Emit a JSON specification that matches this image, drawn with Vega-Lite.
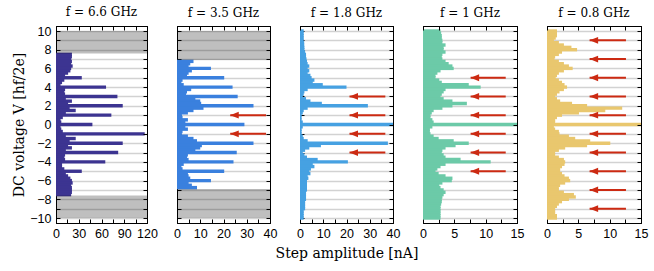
{
  "$schema": "https://vega.github.io/schema/vega-lite/v6.json",
  "padding": {"left": 12, "top": 5, "right": 5, "bottom": 5},
  "background": "white",
  "bounds": "flush",
  "spacing": 30,
  "config": {
    "view": {"stroke": "black", "strokeWidth": 1},
    "axis": {"labelFont": "Liberation Sans", "labelFontSize": 12.5, "labelColor": "black", "labelOverlap": false, "labelFlush": false, "titleFont": "DejaVu Serif", "titleFontSize": 14, "titleFontWeight": "normal", "titleColor": "black", "tickColor": "black", "domainColor": "black", "tickSize": -4, "tickWidth": 1, "domain": true},
    "title": {"font": "DejaVu Serif", "fontSize": 12, "fontWeight": "normal", "color": "black", "offset": 6}
  },
  "datasets": {
    "b1": [
      {"v":7.5,"a":21},{"v":7.25,"a":21},{"v":7,"a":20},{"v":6.75,"a":21},{"v":6.5,"a":20},{"v":6.25,"a":22},{"v":6,"a":20},{"v":5.75,"a":19},{"v":5.5,"a":16},{"v":5.25,"a":12},{"v":5,"a":34},{"v":4.75,"a":11},{"v":4.5,"a":8},{"v":4.25,"a":6},{"v":4,"a":66},{"v":3.75,"a":12},{"v":3.5,"a":11},{"v":3.25,"a":12},{"v":3,"a":81},{"v":2.75,"a":13},{"v":2.5,"a":21},{"v":2.25,"a":16},{"v":2,"a":88},{"v":1.75,"a":18},{"v":1.5,"a":26},{"v":1.25,"a":13},{"v":1,"a":73},{"v":0.75,"a":9},{"v":0.5,"a":6},{"v":0.25,"a":7},{"v":0,"a":48},{"v":-0.25,"a":6},{"v":-0.5,"a":7},{"v":-0.75,"a":9},{"v":-1,"a":117},{"v":-1.25,"a":13},{"v":-1.5,"a":26},{"v":-1.75,"a":18},{"v":-2,"a":88},{"v":-2.25,"a":16},{"v":-2.5,"a":21},{"v":-2.75,"a":13},{"v":-3,"a":82},{"v":-3.25,"a":12},{"v":-3.5,"a":11},{"v":-3.75,"a":12},{"v":-4,"a":65},{"v":-4.25,"a":8},{"v":-4.5,"a":8},{"v":-4.75,"a":11},{"v":-5,"a":34},{"v":-5.25,"a":13},{"v":-5.5,"a":16},{"v":-5.75,"a":19},{"v":-6,"a":21},{"v":-6.25,"a":22},{"v":-6.5,"a":20},{"v":-6.75,"a":21},{"v":-7,"a":21},{"v":-7.25,"a":21},{"v":-7.5,"a":20}
    ],
    "b2": [
      {"v":6.75,"a":7.1},{"v":6.5,"a":5.7},{"v":6.25,"a":5},{"v":6,"a":14.6},{"v":5.75,"a":6.4},{"v":5.5,"a":5},{"v":5.25,"a":4.3},{"v":5,"a":20.3},{"v":4.75,"a":2.4},{"v":4.5,"a":1.9},{"v":4.25,"a":2.9},{"v":4,"a":23.9},{"v":3.75,"a":6.1},{"v":3.5,"a":4.3},{"v":3.25,"a":3.9},{"v":3,"a":26.1},{"v":2.75,"a":7.9},{"v":2.5,"a":10},{"v":2.25,"a":10.4},{"v":2,"a":32.9},{"v":1.75,"a":11.4},{"v":1.5,"a":7.1},{"v":1.25,"a":4.7},{"v":1,"a":2.1},{"v":0.75,"a":2.4},{"v":0.5,"a":4.7},{"v":0.25,"a":3.6},{"v":0,"a":29},{"v":-0.25,"a":3.6},{"v":-0.5,"a":4.7},{"v":-0.75,"a":2.4},{"v":-1,"a":2.1},{"v":-1.25,"a":4.7},{"v":-1.5,"a":7.1},{"v":-1.75,"a":8.6},{"v":-2,"a":32.9},{"v":-2.25,"a":10.7},{"v":-2.5,"a":10},{"v":-2.75,"a":7.9},{"v":-3,"a":25.7},{"v":-3.25,"a":4.7},{"v":-3.5,"a":4.3},{"v":-3.75,"a":5},{"v":-4,"a":24.3},{"v":-4.25,"a":2.9},{"v":-4.5,"a":1.9},{"v":-4.75,"a":2.4},{"v":-5,"a":20.3},{"v":-5.25,"a":4.7},{"v":-5.5,"a":5},{"v":-5.75,"a":5.7},{"v":-6,"a":14.6},{"v":-6.25,"a":5},{"v":-6.5,"a":6.4},{"v":-6.75,"a":8.6}
    ],
    "b3": [
      {"v":10,"a":1.6},{"v":9.75,"a":1.6},{"v":9.5,"a":1.6},{"v":9.25,"a":1.6},{"v":9,"a":1.6},{"v":8.75,"a":1.8},{"v":8.5,"a":1.8},{"v":8.25,"a":1.9},{"v":8,"a":1.9},{"v":7.75,"a":2.2},{"v":7.5,"a":2.6},{"v":7.25,"a":2.6},{"v":7,"a":2.8},{"v":6.75,"a":3},{"v":6.5,"a":3.3},{"v":6.25,"a":4},{"v":6,"a":3.3},{"v":5.75,"a":4},{"v":5.5,"a":3.3},{"v":5.25,"a":4.5},{"v":5,"a":5},{"v":4.75,"a":6.2},{"v":4.5,"a":5.5},{"v":4.25,"a":9.8},{"v":4,"a":20},{"v":3.75,"a":3.3},{"v":3.5,"a":1.9},{"v":3.25,"a":1.6},{"v":3,"a":1.2},{"v":2.75,"a":2.6},{"v":2.5,"a":4.5},{"v":2.25,"a":9.4},{"v":2,"a":29.2},{"v":1.75,"a":3.3},{"v":1.5,"a":1.6},{"v":1.25,"a":1.2},{"v":1,"a":0.7},{"v":0.75,"a":0.7},{"v":0.5,"a":0.7},{"v":0.25,"a":1.2},{"v":0,"a":42},{"v":-0.25,"a":1.2},{"v":-0.5,"a":0.7},{"v":-0.75,"a":0.7},{"v":-1,"a":0.7},{"v":-1.25,"a":1.2},{"v":-1.5,"a":1.6},{"v":-1.75,"a":3.3},{"v":-2,"a":37.8},{"v":-2.25,"a":9},{"v":-2.5,"a":4},{"v":-2.75,"a":2.2},{"v":-3,"a":1.2},{"v":-3.25,"a":1.9},{"v":-3.5,"a":3},{"v":-3.75,"a":7.6},{"v":-4,"a":20.6},{"v":-4.25,"a":5.5},{"v":-4.5,"a":6.2},{"v":-4.75,"a":4.7},{"v":-5,"a":4},{"v":-5.25,"a":4.5},{"v":-5.5,"a":3.3},{"v":-5.75,"a":3.6},{"v":-6,"a":3},{"v":-6.25,"a":3},{"v":-6.5,"a":3},{"v":-6.75,"a":3},{"v":-7,"a":3},{"v":-7.25,"a":2.6},{"v":-7.5,"a":2.6},{"v":-7.75,"a":2.6},{"v":-8,"a":2.6},{"v":-8.25,"a":2.2},{"v":-8.5,"a":2.2},{"v":-8.75,"a":2.2},{"v":-9,"a":2.2},{"v":-9.25,"a":1.6},{"v":-9.5,"a":1.6},{"v":-9.75,"a":1.6},{"v":-10,"a":1.6}
    ],
    "b4": [
      {"v":10,"a":2.8},{"v":9.75,"a":2.9},{"v":9.5,"a":3},{"v":9.25,"a":3},{"v":9,"a":3.1},{"v":8.75,"a":3.1},{"v":8.5,"a":3.6},{"v":8.25,"a":3.3},{"v":8,"a":3.3},{"v":7.75,"a":3.6},{"v":7.5,"a":3.1},{"v":7.25,"a":3},{"v":7,"a":3.1},{"v":6.75,"a":3.6},{"v":6.5,"a":4.1},{"v":6.25,"a":4.7},{"v":6,"a":4.9},{"v":5.75,"a":2.8},{"v":5.5,"a":2.3},{"v":5.25,"a":2},{"v":5,"a":2},{"v":4.75,"a":2.6},{"v":4.5,"a":3},{"v":4.25,"a":7.3},{"v":4,"a":9.2},{"v":3.75,"a":3.6},{"v":3.5,"a":3.3},{"v":3.25,"a":3},{"v":3,"a":2.8},{"v":2.75,"a":3.3},{"v":2.5,"a":4.7},{"v":2.25,"a":7},{"v":2,"a":4.7},{"v":1.75,"a":3.1},{"v":1.5,"a":1.7},{"v":1.25,"a":1.4},{"v":1,"a":1.2},{"v":0.75,"a":1.2},{"v":0.5,"a":1.5},{"v":0.25,"a":1.7},{"v":0,"a":16},{"v":-0.25,"a":1.5},{"v":-0.5,"a":1.1},{"v":-0.75,"a":1.1},{"v":-1,"a":1.2},{"v":-1.25,"a":1.7},{"v":-1.5,"a":2.5},{"v":-1.75,"a":4.9},{"v":-2,"a":7.3},{"v":-2.25,"a":5.2},{"v":-2.5,"a":3.6},{"v":-2.75,"a":3.1},{"v":-3,"a":3},{"v":-3.25,"a":3.3},{"v":-3.5,"a":3.6},{"v":-3.75,"a":6},{"v":-4,"a":10.8},{"v":-4.25,"a":3.6},{"v":-4.5,"a":2.8},{"v":-4.75,"a":2.3},{"v":-5,"a":2},{"v":-5.25,"a":2.5},{"v":-5.5,"a":3.6},{"v":-5.75,"a":4.7},{"v":-6,"a":4.6},{"v":-6.25,"a":3.1},{"v":-6.5,"a":2.6},{"v":-6.75,"a":2.8},{"v":-7,"a":3.3},{"v":-7.25,"a":3.6},{"v":-7.5,"a":3.3},{"v":-7.75,"a":3.1},{"v":-8,"a":3},{"v":-8.25,"a":3},{"v":-8.5,"a":2.9},{"v":-8.75,"a":2.8},{"v":-9,"a":2.8},{"v":-9.25,"a":2.8},{"v":-9.5,"a":2.8},{"v":-9.75,"a":2.8},{"v":-10,"a":2.8}
    ],
    "b5": [
      {"v":10,"a":1.6},{"v":9.75,"a":1.6},{"v":9.5,"a":1.6},{"v":9.25,"a":1.4},{"v":9,"a":1.1},{"v":8.75,"a":1.9},{"v":8.5,"a":2.7},{"v":8.25,"a":3.9},{"v":8,"a":4.8},{"v":7.75,"a":2.4},{"v":7.5,"a":1.9},{"v":7.25,"a":1.3},{"v":7,"a":1.2},{"v":6.75,"a":1.9},{"v":6.5,"a":2.7},{"v":6.25,"a":3.5},{"v":6,"a":4.1},{"v":5.75,"a":2.7},{"v":5.5,"a":1.9},{"v":5.25,"a":1.6},{"v":5,"a":1.4},{"v":4.75,"a":1.9},{"v":4.5,"a":2.4},{"v":4.25,"a":2.8},{"v":4,"a":3.2},{"v":3.75,"a":2.7},{"v":3.5,"a":2},{"v":3.25,"a":1.6},{"v":3,"a":1.3},{"v":2.75,"a":1.6},{"v":2.5,"a":2.1},{"v":2.25,"a":4},{"v":2,"a":6.4},{"v":1.75,"a":12},{"v":1.5,"a":9.3},{"v":1.25,"a":5.1},{"v":1,"a":2.4},{"v":0.75,"a":1.6},{"v":0.5,"a":1.3},{"v":0.25,"a":1.3},{"v":0,"a":16},{"v":-0.25,"a":1.1},{"v":-0.5,"a":1.3},{"v":-0.75,"a":1.9},{"v":-1,"a":2},{"v":-1.25,"a":3.5},{"v":-1.5,"a":4.5},{"v":-1.75,"a":6.9},{"v":-2,"a":10.1},{"v":-2.25,"a":6.4},{"v":-2.5,"a":2.9},{"v":-2.75,"a":1.9},{"v":-3,"a":1.3},{"v":-3.25,"a":1.3},{"v":-3.5,"a":1.9},{"v":-3.75,"a":2.7},{"v":-4,"a":2.9},{"v":-4.25,"a":2.8},{"v":-4.5,"a":2.4},{"v":-4.75,"a":2.1},{"v":-5,"a":2.1},{"v":-5.25,"a":2.4},{"v":-5.5,"a":2.8},{"v":-5.75,"a":3.5},{"v":-6,"a":3.7},{"v":-6.25,"a":2.9},{"v":-6.5,"a":2.1},{"v":-6.75,"a":1.9},{"v":-7,"a":1.9},{"v":-7.25,"a":2.7},{"v":-7.5,"a":4.3},{"v":-7.75,"a":4.6},{"v":-8,"a":3.5},{"v":-8.25,"a":2.4},{"v":-8.5,"a":1.9},{"v":-8.75,"a":1.6},{"v":-9,"a":1.3},{"v":-9.25,"a":1.3},{"v":-9.5,"a":1.3},{"v":-9.75,"a":1.6},{"v":-10,"a":1.6}
    ],
    "g1": [{"y1":7.6,"y2":10,"x1":0,"x2":120},{"y1":-10,"y2":-7.6,"x1":0,"x2":120}],
    "g2": [{"y1":6.9,"y2":10,"x1":0,"x2":40},{"y1":-10,"y2":-6.9,"x1":0,"x2":40}],
    "a2": [{"y":1,"tail":38.3,"tip":22.9},{"y":-1,"tail":38.3,"tip":22.9}],
    "a3": [{"y":3,"tail":36.7,"tip":21.3},{"y":1,"tail":36.7,"tip":21.3},{"y":-1,"tail":36.7,"tip":21.3},{"y":-3,"tail":36.7,"tip":21.3}],
    "a4": [{"y":5,"tail":13.2,"tip":7.6},{"y":3,"tail":13.2,"tip":7.6},{"y":1,"tail":13.2,"tip":7.6},{"y":-1,"tail":13.2,"tip":7.6},{"y":-3,"tail":13.2,"tip":7.6},{"y":-5,"tail":13.2,"tip":7.6}],
    "a5": [{"y":9,"tail":12.6,"tip":6.8},{"y":7,"tail":12.6,"tip":6.8},{"y":5,"tail":12.6,"tip":6.8},{"y":3,"tail":12.6,"tip":6.8},{"y":1,"tail":12.6,"tip":6.8},{"y":-1,"tail":12.6,"tip":6.8},{"y":-3,"tail":12.6,"tip":6.8},{"y":-5,"tail":12.6,"tip":6.8},{"y":-7,"tail":12.6,"tip":6.8},{"y":-9,"tail":12.6,"tip":6.8}]
  },
  "hconcat": [
    {
      "width": 91, "height": 197,
      "title": "f = 6.6 GHz",
      "resolve": {"axis": {"x": "independent", "y": "independent"}},
      "layer": [
        {"data": {"name": "b1"}, "mark": {"type": "bar", "orient": "horizontal", "size": 3.4, "color": "#3c3491", "clip": true},
         "encoding": {
           "y": {"field": "v", "type": "quantitative", "scale": {"domain": [-10, 10], "nice": false, "zero": false}, "axis": {"orient": "left", "zindex": 0, "values": [-10,-9,-8,-7,-6,-5,-4,-3,-2,-1,0,1,2,3,4,5,6,7,8,9,10], "labelExpr": "datum.value % 2 == 0 ? datum.label : ''", "labelPadding": 9, "grid": true, "gridColor": "#d2d2d2", "gridWidth": 1.3, "title": "DC voltage V [hf/2e]", "titlePadding": 3}},
           "x": {"field": "a", "type": "quantitative", "scale": {"domain": [0, 120], "nice": false}, "axis": {"orient": "bottom", "zindex": 0, "values": [0,15,30,45,60,75,90,105,120], "labelExpr": "datum.value % 30 == 0 ? datum.label : ''", "labelPadding": 8, "grid": false, "title": null}}
         }},
        {"data": {"name": "g1"}, "mark": {"type": "rect", "color": "#000000", "opacity": 0.25},
         "encoding": {
           "y": {"field": "y1", "type": "quantitative", "axis": {"orient": "right", "zindex": 1, "values": [-10,-9,-8,-7,-6,-5,-4,-3,-2,-1,0,1,2,3,4,5,6,7,8,9,10], "labels": false, "grid": false, "title": null}},
           "y2": {"field": "y2"},
           "x": {"field": "x1", "type": "quantitative", "axis": {"orient": "top", "zindex": 1, "values": [0,15,30,45,60,75,90,105,120], "labels": false, "grid": false, "title": null}},
           "x2": {"field": "x2"}
         }}
      ]
    },
    {
      "width": 93, "height": 197,
      "title": "f = 3.5 GHz",
      "resolve": {"axis": {"x": "independent", "y": "independent"}},
      "layer": [
        {"data": {"name": "b2"}, "mark": {"type": "bar", "orient": "horizontal", "size": 3.4, "color": "#3a80de", "clip": true},
         "encoding": {
           "y": {"field": "v", "type": "quantitative", "scale": {"domain": [-10, 10], "nice": false, "zero": false}, "axis": {"orient": "left", "zindex": 0, "values": [-10,-9,-8,-7,-6,-5,-4,-3,-2,-1,0,1,2,3,4,5,6,7,8,9,10], "labels": false, "grid": true, "gridColor": "#d2d2d2", "gridWidth": 1.3, "title": null}},
           "x": {"field": "a", "type": "quantitative", "scale": {"domain": [0, 40], "nice": false}, "axis": {"orient": "bottom", "zindex": 0, "values": [0,5,10,15,20,25,30,35,40], "labelExpr": "datum.value % 10 == 0 ? datum.label : ''", "labelPadding": 8, "grid": false, "title": null}}
         }},
        {"data": {"name": "g2"}, "mark": {"type": "rect", "color": "#000000", "opacity": 0.25},
         "encoding": {
           "y": {"field": "y1", "type": "quantitative", "axis": {"orient": "right", "zindex": 1, "values": [-10,-9,-8,-7,-6,-5,-4,-3,-2,-1,0,1,2,3,4,5,6,7,8,9,10], "labels": false, "grid": false, "title": null}},
           "y2": {"field": "y2"},
           "x": {"field": "x1", "type": "quantitative", "axis": {"orient": "top", "zindex": 1, "values": [0,5,10,15,20,25,30,35,40], "labels": false, "grid": false, "title": null}},
           "x2": {"field": "x2"}
         }},
        {"data": {"name": "a2"}, "mark": {"type": "rule", "color": "#cc2a12", "strokeWidth": 2},
         "encoding": {"y": {"field": "y", "type": "quantitative", "axis": null}, "x": {"field": "tail", "type": "quantitative", "axis": null}, "x2": {"field": "tip"}}},
        {"data": {"name": "a2"}, "mark": {"type": "point", "shape": "M 0 0 L 2 -0.8 L 2 0.8 Z", "size": 72, "filled": true, "opacity": 1, "color": "#cc2a12"},
         "encoding": {"y": {"field": "y", "type": "quantitative", "axis": null}, "x": {"field": "tip", "type": "quantitative", "axis": null}}}
      ]
    },
    {
      "width": 93, "height": 197,
      "title": "f = 1.8 GHz",
      "resolve": {"axis": {"x": "independent", "y": "independent"}},
      "layer": [
        {"data": {"name": "b3"}, "mark": {"type": "bar", "orient": "horizontal", "size": 3.4, "color": "#46a1e2", "clip": true},
         "encoding": {
           "y": {"field": "v", "type": "quantitative", "scale": {"domain": [-10, 10], "nice": false, "zero": false}, "axis": {"orient": "left", "zindex": 0, "values": [-10,-9,-8,-7,-6,-5,-4,-3,-2,-1,0,1,2,3,4,5,6,7,8,9,10], "labels": false, "grid": true, "gridColor": "#d2d2d2", "gridWidth": 1.3, "title": null}},
           "x": {"field": "a", "type": "quantitative", "scale": {"domain": [0, 40], "nice": false}, "axis": {"orient": "bottom", "zindex": 0, "values": [0,5,10,15,20,25,30,35,40], "labelExpr": "datum.value % 10 == 0 ? datum.label : ''", "labelPadding": 8, "grid": false, "title": "Step amplitude [nA]", "titlePadding": 7}}
         }},
        {"data": {"name": "a3"}, "mark": {"type": "rule", "color": "#cc2a12", "strokeWidth": 2},
         "encoding": {
           "y": {"field": "y", "type": "quantitative", "axis": {"orient": "right", "zindex": 1, "values": [-10,-9,-8,-7,-6,-5,-4,-3,-2,-1,0,1,2,3,4,5,6,7,8,9,10], "labels": false, "grid": false, "title": null}},
           "x": {"field": "tail", "type": "quantitative", "axis": {"orient": "top", "zindex": 1, "values": [0,5,10,15,20,25,30,35,40], "labels": false, "grid": false, "title": null}},
           "x2": {"field": "tip"}
         }},
        {"data": {"name": "a3"}, "mark": {"type": "point", "shape": "M 0 0 L 2 -0.8 L 2 0.8 Z", "size": 72, "filled": true, "opacity": 1, "color": "#cc2a12"},
         "encoding": {"y": {"field": "y", "type": "quantitative", "axis": null}, "x": {"field": "tip", "type": "quantitative", "axis": null}}}
      ]
    },
    {
      "width": 94, "height": 197,
      "title": "f = 1 GHz",
      "resolve": {"axis": {"x": "independent", "y": "independent"}},
      "layer": [
        {"data": {"name": "b4"}, "mark": {"type": "bar", "orient": "horizontal", "size": 3.4, "color": "#6ccaa8", "clip": true},
         "encoding": {
           "y": {"field": "v", "type": "quantitative", "scale": {"domain": [-10, 10], "nice": false, "zero": false}, "axis": {"orient": "left", "zindex": 0, "values": [-10,-9,-8,-7,-6,-5,-4,-3,-2,-1,0,1,2,3,4,5,6,7,8,9,10], "labels": false, "grid": true, "gridColor": "#d2d2d2", "gridWidth": 1.3, "title": null}},
           "x": {"field": "a", "type": "quantitative", "scale": {"domain": [0, 15], "nice": false}, "axis": {"orient": "bottom", "zindex": 0, "values": [0,2.5,5,7.5,10,12.5,15], "labelExpr": "datum.value % 5 == 0 ? datum.label : ''", "labelPadding": 8, "grid": false, "title": null}}
         }},
        {"data": {"name": "a4"}, "mark": {"type": "rule", "color": "#cc2a12", "strokeWidth": 2},
         "encoding": {
           "y": {"field": "y", "type": "quantitative", "axis": {"orient": "right", "zindex": 1, "values": [-10,-9,-8,-7,-6,-5,-4,-3,-2,-1,0,1,2,3,4,5,6,7,8,9,10], "labels": false, "grid": false, "title": null}},
           "x": {"field": "tail", "type": "quantitative", "axis": {"orient": "top", "zindex": 1, "values": [0,2.5,5,7.5,10,12.5,15], "labels": false, "grid": false, "title": null}},
           "x2": {"field": "tip"}
         }},
        {"data": {"name": "a4"}, "mark": {"type": "point", "shape": "M 0 0 L 2 -0.8 L 2 0.8 Z", "size": 72, "filled": true, "opacity": 1, "color": "#cc2a12"},
         "encoding": {"y": {"field": "y", "type": "quantitative", "axis": null}, "x": {"field": "tip", "type": "quantitative", "axis": null}}}
      ]
    },
    {
      "width": 94, "height": 197,
      "title": "f = 0.8 GHz",
      "resolve": {"axis": {"x": "independent", "y": "independent"}},
      "layer": [
        {"data": {"name": "b5"}, "mark": {"type": "bar", "orient": "horizontal", "size": 3.4, "color": "#e9c76e", "clip": true},
         "encoding": {
           "y": {"field": "v", "type": "quantitative", "scale": {"domain": [-10, 10], "nice": false, "zero": false}, "axis": {"orient": "left", "zindex": 0, "values": [-10,-9,-8,-7,-6,-5,-4,-3,-2,-1,0,1,2,3,4,5,6,7,8,9,10], "labels": false, "grid": true, "gridColor": "#d2d2d2", "gridWidth": 1.3, "title": null}},
           "x": {"field": "a", "type": "quantitative", "scale": {"domain": [0, 15], "nice": false}, "axis": {"orient": "bottom", "zindex": 0, "values": [0,2.5,5,7.5,10,12.5,15], "labelExpr": "datum.value % 5 == 0 ? datum.label : ''", "labelPadding": 8, "grid": false, "title": null}}
         }},
        {"data": {"name": "a5"}, "mark": {"type": "rule", "color": "#cc2a12", "strokeWidth": 2},
         "encoding": {
           "y": {"field": "y", "type": "quantitative", "axis": {"orient": "right", "zindex": 1, "values": [-10,-9,-8,-7,-6,-5,-4,-3,-2,-1,0,1,2,3,4,5,6,7,8,9,10], "labels": false, "grid": false, "title": null}},
           "x": {"field": "tail", "type": "quantitative", "axis": {"orient": "top", "zindex": 1, "values": [0,2.5,5,7.5,10,12.5,15], "labels": false, "grid": false, "title": null}},
           "x2": {"field": "tip"}
         }},
        {"data": {"name": "a5"}, "mark": {"type": "point", "shape": "M 0 0 L 2 -0.8 L 2 0.8 Z", "size": 72, "filled": true, "opacity": 1, "color": "#cc2a12"},
         "encoding": {"y": {"field": "y", "type": "quantitative", "axis": null}, "x": {"field": "tip", "type": "quantitative", "axis": null}}}
      ]
    }
  ]
}
